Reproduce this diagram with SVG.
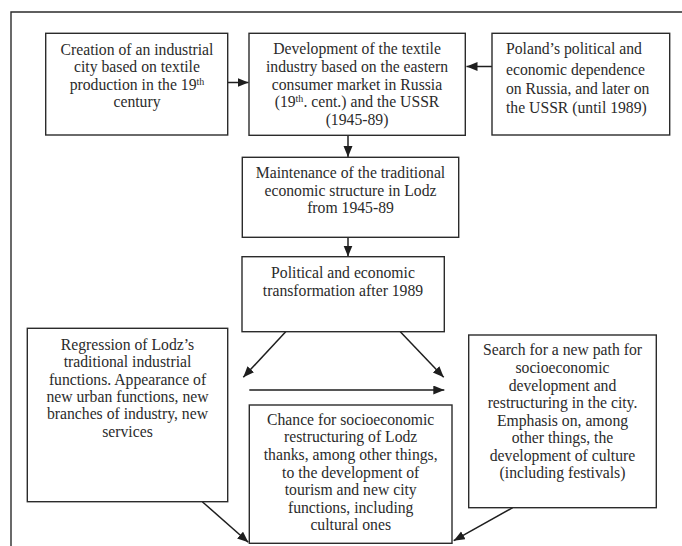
<svg xmlns="http://www.w3.org/2000/svg" width="682" height="546" viewBox="0 0 682 546">
<style>
.box{fill:#fff;stroke:#2b2b2b;stroke-width:1.4}
.t{font-family:"Liberation Serif","Times New Roman",serif;font-size:15.7px;fill:#2b2b2b;text-anchor:middle}
.l{text-anchor:start}
.sup{font-size:10px}
.c{stroke:#1e1e1e;stroke-width:1.5;fill:none}
</style>
<defs>
<marker id="ah" markerUnits="userSpaceOnUse" markerWidth="12" markerHeight="10" refX="11" refY="4.5" orient="auto">
<path d="M0,0 L11,4.5 L0,9 z" fill="#1e1e1e"/>
</marker>
</defs>
<rect width="682" height="546" fill="#fff"/>
<path d="M11,560 L11,12 L700,12" fill="none" stroke="#2b2b2b" stroke-width="1.4"/>

<g id="connectors">
<line class="c" x1="228" y1="82.5" x2="248.5" y2="82.5" marker-end="url(#ah)"/>
<line class="c" x1="492" y1="66.5" x2="466.5" y2="66.5" marker-end="url(#ah)"/>
<line class="c" x1="348" y1="135.5" x2="348" y2="157" marker-end="url(#ah)"/>
<line class="c" x1="348" y1="225" x2="348" y2="256.5" marker-end="url(#ah)"/>
<line class="c" x1="285.7" y1="331.7" x2="243.3" y2="377.3" marker-end="url(#ah)"/>
<line class="c" x1="400.3" y1="331.7" x2="443.7" y2="377.3" marker-end="url(#ah)"/>
<line class="c" x1="249.3" y1="390" x2="444.3" y2="390" marker-end="url(#ah)"/>
<line class="c" x1="202.3" y1="501.7" x2="248.3" y2="542.3" marker-end="url(#ah)"/>
<line class="c" x1="512.7" y1="507.7" x2="453.7" y2="540.7" marker-end="url(#ah)"/>
</g>

<g id="n1">
<rect class="box" x="45.7" y="33.3" width="182" height="101.7"/>
<text class="t" x="137" y="55">Creation of an industrial</text>
<text class="t" x="137" y="72">city based on textile</text>
<text class="t" x="137" y="89.5">production in the 19<tspan class="sup" dy="-5">th</tspan></text>
<text class="t" x="137" y="106.5">century</text>
</g>

<g id="n2">
<rect class="box" x="249" y="33.3" width="216.3" height="102"/>
<text class="t" x="357" y="54.3">Development of the textile</text>
<text class="t" x="357" y="71.7">industry based on the eastern</text>
<text class="t" x="357" y="90">consumer market in Russia</text>
<text class="t" x="357" y="107.3">(19<tspan class="sup" dy="-5">th</tspan><tspan dy="5">. cent.) and the USSR</tspan></text>
<text class="t" x="357" y="125">(1945-89)</text>
</g>

<g id="n3">
<rect class="box" x="492" y="33.3" width="177.7" height="101.7"/>
<text class="t l" x="506" y="54.3">Poland’s political and</text>
<text class="t l" x="506" y="74.5">economic dependence</text>
<text class="t l" x="506" y="94.3">on Russia, and later on</text>
<text class="t l" x="506" y="113.3">the USSR (until 1989)</text>
</g>

<g id="n4">
<rect class="box" x="242.3" y="157.3" width="216.4" height="80"/>
<text class="t" x="350.5" y="178.3">Maintenance of the traditional</text>
<text class="t" x="350.5" y="195.7">economic structure in Lodz</text>
<text class="t" x="350.5" y="213.3">from 1945-89</text>
</g>

<g id="n5">
<rect class="box" x="242" y="256.7" width="202.3" height="75"/>
<text class="t" x="343" y="278.3">Political and economic</text>
<text class="t" x="343" y="295.7">transformation after 1989</text>
</g>

<g id="n6">
<rect class="box" x="27.3" y="328.3" width="200.4" height="173.4"/>
<text class="t" x="127.5" y="350">Regression of Lodz’s</text>
<text class="t" x="127.5" y="367">traditional industrial</text>
<text class="t" x="127.5" y="385">functions. Appearance of</text>
<text class="t" x="127.5" y="402">new urban functions, new</text>
<text class="t" x="127.5" y="419.3">branches of industry, new</text>
<text class="t" x="127.5" y="436.7">services</text>
</g>

<g id="n7">
<rect class="box" x="249.3" y="405" width="202.7" height="138.3"/>
<text class="t" x="350.7" y="425">Chance for socioeconomic</text>
<text class="t" x="350.7" y="442.3">restructuring of Lodz</text>
<text class="t" x="350.7" y="460">thanks, among other things,</text>
<text class="t" x="350.7" y="478">to the development of</text>
<text class="t" x="350.7" y="495.3">tourism and new city</text>
<text class="t" x="350.7" y="513">functions, including</text>
<text class="t" x="350.7" y="530.3">cultural ones</text>
</g>

<g id="n8">
<rect class="box" x="468.7" y="335" width="187.6" height="172.7"/>
<text class="t" x="562.5" y="355">Search for a new path for</text>
<text class="t" x="562.5" y="372.7">socioeconomic</text>
<text class="t" x="562.5" y="390.5">development and</text>
<text class="t" x="562.5" y="407.5">restructuring in the city.</text>
<text class="t" x="562.5" y="425.5">Emphasis on, among</text>
<text class="t" x="562.5" y="443">other things, the</text>
<text class="t" x="562.5" y="460.7">development of culture</text>
<text class="t" x="562.5" y="478.3">(including festivals)</text>
</g>
</svg>
